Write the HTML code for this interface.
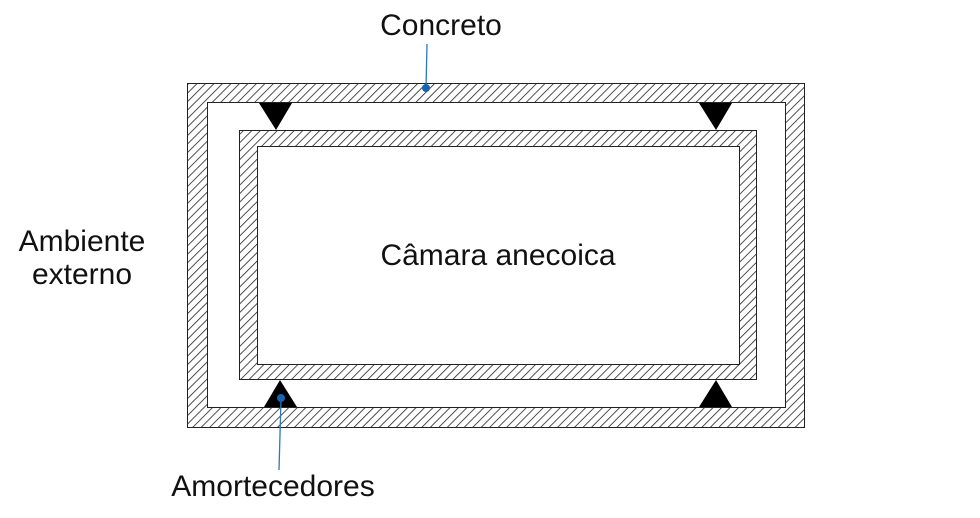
<!DOCTYPE html>
<html><head><meta charset="utf-8"><style>
html,body{margin:0;padding:0;background:#fff;}
svg{display:block;}
text{font-family:"Liberation Sans",sans-serif;fill:#111;}
</style></head><body>
<svg width="980" height="518" viewBox="0 0 980 518" xmlns="http://www.w3.org/2000/svg">
<defs>
<pattern id="h" patternUnits="userSpaceOnUse" width="6" height="6" patternTransform="rotate(45)">
<rect width="6" height="6" fill="#fff"/>
<line x1="0" y1="0" x2="0" y2="6" stroke="#222" stroke-width="1.6"/>
</pattern>
</defs>
<path d="M187.5,83.5 H804.5 V427.5 H187.5 Z M207.5,102.5 V407.5 H785.5 V102.5 Z" fill="url(#h)" fill-rule="evenodd" stroke="#222" stroke-width="1"/>
<path d="M239.5,130.5 H756.5 V379.5 H239.5 Z M257.5,146.5 V364.5 H739.5 V146.5 Z" fill="url(#h)" fill-rule="evenodd" stroke="#222" stroke-width="1"/>
<polygon points="259,103 292,103 276,130" fill="#000"/>
<polygon points="699,103 732,103 716,130" fill="#000"/>
<polygon points="264,407 297,407 280,380" fill="#000"/>
<polygon points="699,407 732,407 716,380" fill="#000"/>
<line x1="427" y1="44" x2="426" y2="88" stroke="#2a7ab8" stroke-width="1.3"/>
<circle cx="426" cy="88" r="4" fill="#1565b0"/>
<line x1="281" y1="399" x2="279" y2="470" stroke="#2a7ab8" stroke-width="1.3"/>
<circle cx="281" cy="398" r="4" fill="#1565b0"/>
<text x="441" y="35" font-size="30" text-anchor="middle">Concreto</text>
<text x="498" y="265" font-size="30" text-anchor="middle">Câmara anecoica</text>
<text x="82" y="251" font-size="30" text-anchor="middle">Ambiente</text>
<text x="82" y="284" font-size="30" text-anchor="middle">externo</text>
<text x="273" y="496" font-size="30" text-anchor="middle">Amortecedores</text>
</svg>
</body></html>
